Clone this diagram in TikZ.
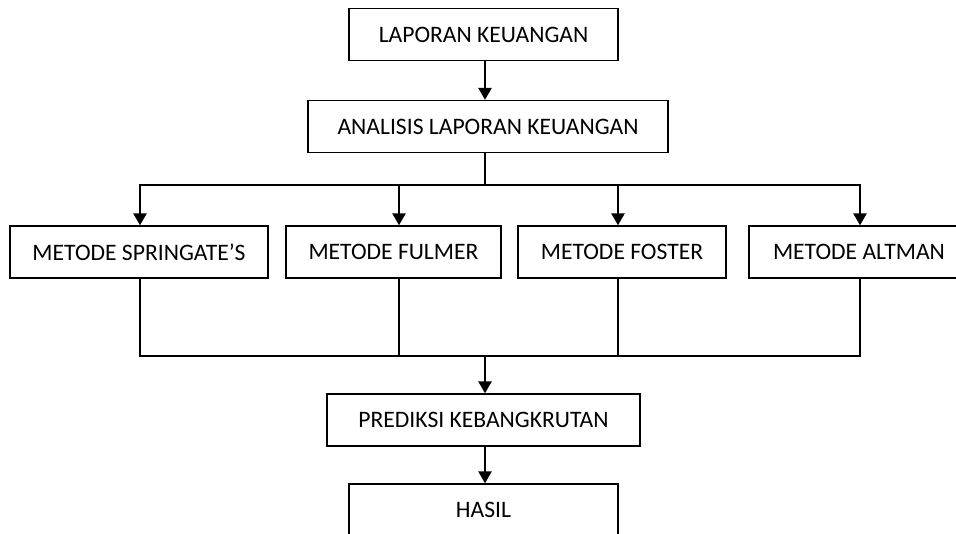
\documentclass[tikz,border=0pt]{standalone}
\usepackage{fontspec}
\setmainfont{Carlito}
\usetikzlibrary{arrows.meta, calc}

\tikzset{
    kotak/.style={draw, line width=1.3pt, rectangle, minimum height=52pt, inner sep=0pt},
    garis/.style={line width=2.5pt, line cap=rect},
    panah/.style={line width=2.5pt, -{Triangle[width=13pt, length=12pt]}}
}

\begin{document}
\begin{tikzpicture}[x=1pt, y=-1pt, font=\fontsize{23.6}{28}\selectfont]
        \useasboundingbox (0, 0) rectangle (956, 534);

        \node [kotak, minimum width=269pt] (lap) at (483.5,  34.5) {LAPORAN KEUANGAN};
        \node [kotak, minimum width=360pt] (ana) at (488, 126.5) {ANALISIS LAPORAN KEUANGAN};

        \node [kotak, minimum width=258pt] (spr) at (139, 252) {METODE SPRINGATE’S};
        \node [kotak, minimum width=215pt] (ful) at (393.5, 252) {METODE FULMER};
        \node [kotak, minimum width=208pt] (fos) at (622, 252) {METODE FOSTER};
        \node [kotak, minimum width=220pt] (alt) at (859, 252) {METODE ALTMAN};

        \node [kotak, minimum width=313pt] (pre) at (483.5, 420) {PREDIKSI KEBANGKRUTAN};
        \node [kotak, minimum width=269pt] (has) at (483.5, 510) {HASIL};

        \coordinate (pa) at (485, 185);
        \coordinate (a1) at (140, 185);
        \coordinate (a2) at (399, 185);
        \coordinate (a3) at (618, 185);
        \coordinate (a4) at (860, 185);

        \coordinate (pb) at (485, 356);
        \coordinate (b1) at (140, 356);
        \coordinate (b2) at (399, 356);
        \coordinate (b3) at (618, 356);
        \coordinate (b4) at (860, 356);

        \draw [panah] (lap.south -| pa) -- (ana.north -| pa);
        \draw [garis] (ana.south -| pa) -- (pa);
        \draw [garis] (a1) -- (a4);
        \draw [panah] (a1) -- (a1 |- spr.north);
        \draw [panah] (a2) -- (a2 |- ful.north);
        \draw [panah] (a3) -- (a3 |- fos.north);
        \draw [panah] (a4) -- (a4 |- alt.north);

        \draw [garis] (b1 |- spr.south) -- (b1);
        \draw [garis] (b2 |- ful.south) -- (b2);
        \draw [garis] (b3 |- fos.south) -- (b3);
        \draw [garis] (b4 |- alt.south) -- (b4);
        \draw [garis] (b1) -- (b4);

        \draw [panah] (pb) -- (pre.north -| pb);
        \draw [panah] (pre.south -| pb) -- (has.north -| pb);
    \end{tikzpicture}
\end{document}
